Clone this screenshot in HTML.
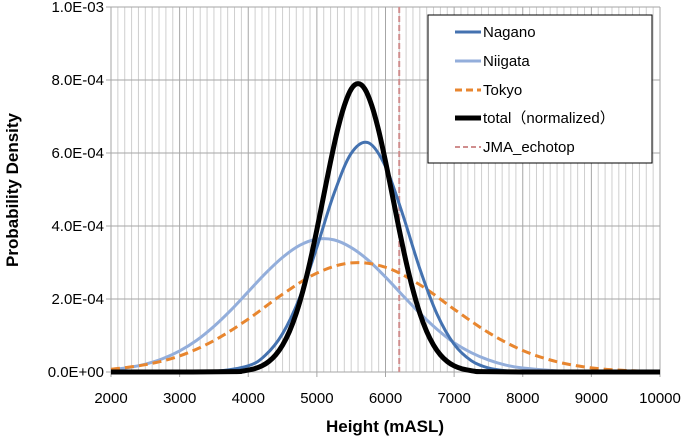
<!DOCTYPE html>
<html><head><meta charset="utf-8"><style>
html,body{margin:0;padding:0;background:#fff;}
svg{display:block;font-family:"Liberation Sans","Noto Sans CJK JP",sans-serif;}
</style></head><body>
<svg id="chart" width="685" height="439" viewBox="0 0 685 439" xmlns="http://www.w3.org/2000/svg">
<g id="grid"></g>
<g id="series"></g>
<g id="axes"></g>
<text transform="translate(18,190) rotate(-90)" text-anchor="middle" font-size="17" font-weight="bold" fill="#000">Probability Density</text>
<text x="385" y="432" text-anchor="middle" font-size="17" font-weight="bold" fill="#000">Height (mASL)</text>
<g>
<rect x="428" y="15" width="224" height="148" fill="#fff" stroke="#000" stroke-width="1"/>
<g><line x1="455" y1="32" x2="481" y2="32" stroke="#4472b0" stroke-width="3"/><text x="483" y="37" font-size="15">Nagano</text></g>
<g><line x1="455" y1="61" x2="481" y2="61" stroke="#93aedb" stroke-width="3"/><text x="483" y="66" font-size="15">Niigata</text></g>
<g><line x1="455" y1="90" x2="481" y2="90" stroke="#e8862f" stroke-width="3" stroke-dasharray="7,4"/><text x="483" y="95" font-size="15">Tokyo</text></g>
<g><line x1="455" y1="118" x2="481" y2="118" stroke="#000" stroke-width="5"/><text x="483" y="123" font-size="15">total（normalized）</text></g>
<g><line x1="455" y1="147" x2="481" y2="147" stroke="#d08e8e" stroke-width="2" stroke-dasharray="5,3"/><text x="483" y="152" font-size="15">JMA_echotop</text></g>
</g>
</svg>
<script>
const xTicks=[2000,3000,4000,5000,6000,7000,8000,9000,10000];
const yTicks=[0,0.0002,0.0004,0.0006,0.0008,0.001];
const yTickLabels=["0.0E+00","2.0E-04","4.0E-04","6.0E-04","8.0E-04","1.0E-03"];
const naganoX=[2000,3000,3500,4000,4250,4500,4750,5000,5250,5500,5750,6000,6250,6500,6750,7000,7250,7500,7750,8000,10000];
const naganoY=[0,0,1.5e-6,1.7e-5,4.6e-5,1.05e-4,2.04e-4,3.42e-4,4.89e-4,5.99e-4,6.28e-4,5.63e-4,4.32e-4,2.83e-4,1.59e-4,7.6e-5,3.1e-5,1.1e-5,3.3e-6,8e-7,0];
const niigataX=[2000,2250,2500,2750,3000,3250,3500,3750,4000,4250,4500,4750,5000,5250,5500,5750,6000,6250,6500,6750,7000,7250,7500,7750,8000,8500,9000,10000];
const niigataY=[6.6e-6,1.22e-5,2.15e-5,3.62e-5,5.77e-5,8.7e-5,1.25e-4,1.70e-4,2.20e-4,2.70e-4,3.14e-4,3.47e-4,3.64e-4,3.62e-4,3.41e-4,3.06e-4,2.60e-4,2.10e-4,1.61e-4,1.17e-4,8.0e-5,5.3e-5,3.3e-5,1.9e-5,1.1e-5,3.2e-6,6e-7,0];
const tokyoX=[2000,2500,3000,3500,4000,4500,5000,5500,6000,6500,7000,7500,8000,8500,9000,9500,10000];
const tokyoY=[7.7e-6,2.0e-5,4.4e-5,8.6e-5,1.45e-4,2.13e-4,2.71e-4,2.99e-4,2.87e-4,2.39e-4,1.72e-4,1.08e-4,5.9e-5,2.8e-5,1.14e-5,4.1e-6,1.3e-6];
const totalX=[2000,3000,3800,3900,4000,4100,4200,4300,4400,4500,4600,4700,4800,4900,5000,5100,5200,5300,5400,5500,5600,5700,5800,5900,6000,6100,6200,6300,6400,6500,6600,6700,6800,6900,7000,7100,7200,7300,7400,8000,9000,10000];
const totalY=[0,0,1e-6,2e-6,5.2e-6,9.6e-6,1.69e-5,2.88e-5,4.69e-5,7.37e-5,1.11e-4,1.61e-4,2.25e-4,3.02e-4,3.90e-4,4.84e-4,5.77e-4,6.62e-4,7.30e-4,7.75e-4,7.90e-4,7.75e-4,7.30e-4,6.62e-4,5.77e-4,4.84e-4,3.90e-4,3.02e-4,2.25e-4,1.61e-4,1.11e-4,7.37e-5,4.69e-5,2.88e-5,1.69e-5,9.6e-6,5.2e-6,2e-6,1e-6,0,0,0];
const echotopHeight=6200;

const X0=111,X1=660,Y0=372,Y1=7;
const xs=v=>X0+(v-2000)/(10000-2000)*(X1-X0);
const ys=v=>Y0-(v/0.001)*(Y0-Y1);
const NS="http://www.w3.org/2000/svg";
function mk(tag,attrs,parent){const e=document.createElementNS(NS,tag);for(const k in attrs)e.setAttribute(k,attrs[k]);parent.appendChild(e);return e;}
const grid=document.getElementById('grid'),axes=document.getElementById('axes'),series=document.getElementById('series');
for(let h=2100;h<10000;h+=100){
  if(h%1000===0)continue;
  const l=mk('line',{x1:xs(h),x2:xs(h),y1:Y1,y2:Y0,stroke:'#cfcfcf','stroke-width':1},grid);
  
  
}
xTicks.forEach(t=>{
  const l=mk('line',{x1:xs(t),x2:xs(t),y1:Y1,y2:Y0+5,stroke:'#a6a6a6','stroke-width':1},grid);
  
  
  const tx=mk('text',{x:xs(t),y:Y0+31,'text-anchor':'middle','font-size':15,fill:'#000'},axes);
  tx.textContent=t;
  
  
});
yTicks.forEach((t,i)=>{
  const l=mk('line',{x1:X0-5,x2:X1,y1:ys(t),y2:ys(t),stroke:'#a6a6a6','stroke-width':1},grid);
  
  
  const tx=mk('text',{x:X0-7,y:ys(t)+5,'text-anchor':'end','font-size':15,fill:'#000'},axes);
  tx.textContent=yTickLabels[i];
  
  
});
function path(X,Y){
  const p=X.map((x,i)=>[xs(x),ys(Y[i])]);
  let d='M'+p[0][0]+','+p[0][1];
  for(let i=0;i<p.length-1;i++){
    const a=p[Math.max(0,i-1)],b=p[i],c=p[i+1],e=p[Math.min(p.length-1,i+2)];
    const c1=[b[0]+(c[0]-a[0])/6,b[1]+(c[1]-a[1])/6],c2=[c[0]-(e[0]-b[0])/6,c[1]-(e[1]-b[1])/6];
    d+=` C${c1[0]},${Math.min(Y0,c1[1])} ${c2[0]},${Math.min(Y0,c2[1])} ${c[0]},${c[1]}`;
  }
  return d;
}
const e=mk('line',{x1:xs(echotopHeight),x2:xs(echotopHeight),y1:Y1,y2:Y0,stroke:'#d08e8e','stroke-width':2,'stroke-dasharray':'6,3'},series);


const s1=mk('path',{d:path(niigataX,niigataY),fill:'none',stroke:'#93aedb','stroke-width':3},series);


const s2=mk('path',{d:path(tokyoX,tokyoY),fill:'none',stroke:'#e8862f','stroke-width':3,'stroke-dasharray':'9,5'},series);


const s3=mk('path',{d:path(naganoX,naganoY),fill:'none',stroke:'#4472b0','stroke-width':3},series);


const s4=mk('path',{d:path(totalX,totalY),fill:'none',stroke:'#000','stroke-width':5,'stroke-linejoin':'round'},series);


</script>
</body></html>
